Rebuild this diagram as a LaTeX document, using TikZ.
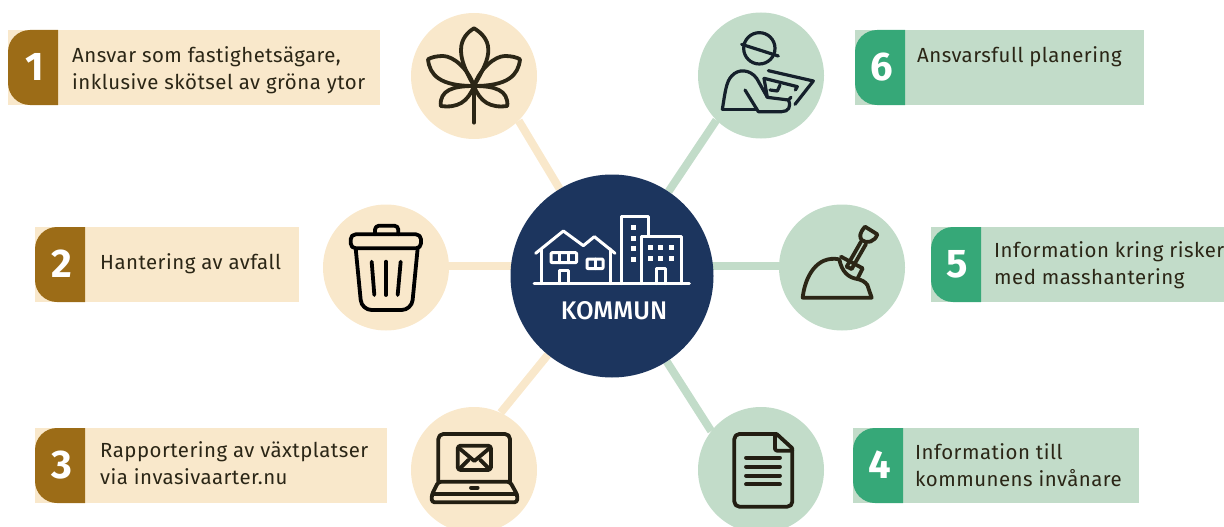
\documentclass[tikz,border=0pt]{standalone}
\usepackage{fontspec}
\setmainfont{Fira Sans}[LetterSpace=2.4]
\newfontfamily\numfont{Fira Sans}
\newfontfamily\hubfont{Fira Sans Medium}
\usetikzlibrary{backgrounds}
\definecolor{beige}{HTML}{F9E8CB}
\definecolor{brownt}{HTML}{9C6C17}
\definecolor{sage}{HTML}{C2DCC9}
\definecolor{greent}{HTML}{36A878}
\definecolor{navy}{HTML}{1C355E}
\definecolor{ink}{HTML}{2B2616}
\definecolor{inkb}{HTML}{15202B}
\tikzset{
  hub/.style={circle,fill=navy,minimum size=203pt,inner sep=0pt},
  bead/.style={circle,minimum size=126pt,inner sep=0pt},
  labelbox/.style={rectangle,anchor=north west,inner sep=0pt,minimum height=75pt},
  labeltext/.style={anchor=west,align=left,text=ink,font=\fontsize{20.4}{27}\selectfont,inner sep=0pt},
  numtext/.style={text=white,font=\numfont\fontsize{40}{40}\selectfont\bfseries,inner sep=0pt},
  spoke/.style={line width=8pt},
  ico/.style={line width=3.8pt,line cap=round,line join=round},
  zoomed/.style={x=0.33333pt,y=-0.33333pt},
}
% name, x, y, width, fill, tab fill, number, text, text position
\newcommand{\labelitem}[9]{%
  \node[labelbox,fill=#5,minimum width=#4pt] (#1) at (#2,#3) {};
  \fill[#6] (#2+50,#3) -- (#2+22,#3) arc[start angle=90,end angle=180,radius=22pt]
     -- (#2,#3+53) arc[start angle=180,end angle=270,radius=22pt] -- (#2+50,#3+75) -- cycle;
  \node[numtext] (#1n) at (#2+26.5,#3+37) {#7};
  \node[labeltext] (#1t) at #9 {#8};
}
\begin{document}
\begin{tikzpicture}[x=1pt,y=-1pt]
\useasboundingbox (0,0) rectangle (1224,527);
\clip (0,0) rectangle (1224,527);
\node[hub] (hub) at (612,276) {};
\node[bead,fill=beige] (leaf) at (474,76) {};
\node[bead,fill=beige] (bin) at (386,267.5) {};
\node[bead,fill=beige] (laptop) at (474,470) {};
\node[bead,fill=sage] (plan) at (761,75.5) {};
\node[bead,fill=sage] (spade) at (842,267.5) {};
\node[bead,fill=sage] (doc) at (761,470) {};
\begin{pgfonlayer}{background}
\draw[spoke,beige] (hub) -- (leaf.-45);
\draw[spoke,beige] (bin.east) ++(0,-1.5) coordinate (binc) -- (binc -| hub);
\draw[spoke,beige] (hub) -- (laptop.65);
\draw[spoke,sage] (hub) -- (plan.-135);
\draw[spoke,sage] (spade.west) ++(0,-1.5) coordinate (spc) -- (spc -| hub);
\draw[spoke,sage] (hub) -- (doc.142);
\end{pgfonlayer}

\labelitem{b1}{8}{30}{372}{beige}{brownt}{1}{Ansvar som fastighetsägare,\\inklusive skötsel av gröna ytor}{(72,70)}
\labelitem{b2}{35}{227}{264}{beige}{brownt}{2}{Hantering av avfall}{(100,263.5)}
\labelitem{b3}{35}{428}{352}{beige}{brownt}{3}{Rapportering av växtplatser\\via invasivaarter.nu}{(100,463.5)}
\labelitem{b6}{855}{30}{289}{sage}{greent}{6}{Ansvarsfull planering}{(917,56.5)}
\labelitem{b5}{931}{227}{293}{sage}{greent}{5}{Information kring risker\\med masshantering}{(994,265)}
\labelitem{b4}{853}{428}{286}{sage}{greent}{4}{Information till\\kommunens invånare}{(915,465)}

% leaf icon
\begin{scope}[shift={(400,0)},zoomed,ico,draw=ink]
\draw (222,258) -- (222,368);
\draw (222,258) .. controls (195,210) and (183,180) .. (183,150) .. controls (183,115) and (205,95) .. (222,85) .. controls (239,95) and (265,115) .. (265,150) .. controls (265,180) and (249,210) .. (222,258);
\draw (222,258) .. controls (240,205) and (285,168) .. (315,168) .. controls (335,168) and (350,172) .. (360,178) .. controls (355,225) and (325,258) .. (222,258);
\draw (222,258) .. controls (204,205) and (159,168) .. (129,168) .. controls (109,168) and (94,172) .. (84,178) .. controls (89,225) and (119,258) .. (222,258);
\draw (222,258) .. controls (285,258) and (325,270) .. (322,318) .. controls (270,325) and (240,305) .. (222,258);
\draw (222,258) .. controls (159,258) and (119,270) .. (122,318) .. controls (174,325) and (204,305) .. (222,258);
\end{scope}

% planner icon
\begin{scope}[shift={(690,10)},zoomed,ico,draw=inkb,line width=3.2pt]
\draw (208,115) circle[radius=47];
\draw (155,103) -- (265,138);
\draw (97,298) .. controls (105,250) and (108,215) .. (125,198) .. controls (145,175) and (180,178) .. (200,205) -- (232,262) -- (295,270) .. controls (305,290) and (295,305) .. (275,305) -- (205,305) -- (165,240);
\draw (97,298) -- (200,298);
\draw (235,182) -- (370,213) -- (315,283);
\draw (222,205) -- (322,230) -- (316,240);
\draw (240,240) -- (262,243) -- (270,225);
\draw (222,205) -- (232,262);
\draw (303,262) -- (295,270);
\end{scope}

% bin icon
\begin{scope}[shift={(320,200)},zoomed,ico,draw=black]
\draw[rounded corners=5pt] (92,145) -- (92,103) -- (303,103) -- (303,145) -- cycle;
\draw[rounded corners=4pt] (165,103) -- (165,77) -- (235,77) -- (235,103);
\draw[rounded corners=10pt] (107,145) -- (125,330) -- (275,330) -- (293,145);
\draw (155,185) -- (163,285);
\draw (198,185) -- (198,285);
\draw (242,185) -- (233,285);
\end{scope}

% spade icon
\begin{scope}[shift={(780,205)},zoomed,ico,draw=ink]
\draw (178,163) .. controls (110,150) and (75,215) .. (68,278) -- (275,278) -- (262,240) .. controls (255,230) and (245,225) .. (232,222) .. controls (205,218) and (185,200) .. (178,163);
\draw (183,155) -- (248,190) -- (232,222);
\draw (200,185) -- (243,110);
\draw (215,192) -- (258,117);
\draw (200,185) -- (215,192);
\draw (255,65) -- (292,88) .. controls (285,110) and (260,118) .. (245,105) .. controls (238,95) and (238,85) .. (255,65) -- cycle;
\end{scope}

% laptop icon
\begin{scope}[shift={(410,405)},zoomed,ico,draw=ink!80!black]
\draw[rounded corners=5pt] (85,230) -- (85,87) -- (300,87) -- (300,230);
\draw[rounded corners=3pt] (85,230) -- (300,230) -- (322,270) -- (322,292) -- (65,292) -- (65,270) -- cycle;
\draw (68,268) -- (320,268);
\draw (183,248) -- (203,248);
\draw[rounded corners=3pt] (143,122) rectangle (243,195);
\draw (148,130) -- (193,168) -- (238,130);
\draw (150,190) -- (176,164);
\draw (236,190) -- (210,164);
\end{scope}

% document icon
\begin{scope}[shift={(695,405)},zoomed,ico,draw=ink!80!black]
\draw[rounded corners=5pt] (245,87) -- (118,87) -- (118,305) -- (292,305) -- (292,130);
\draw (245,87) -- (292,130);
\draw[rounded corners=2pt] (240,87) -- (240,137) -- (292,137);
\draw (153,158) -- (255,158);
\draw (153,185) -- (255,185);
\draw (153,212) -- (255,212);
\draw (153,238) -- (255,238);
\end{scope}

% town icon
\begin{scope}[shift={(510,175)},zoomed,ico,draw=white,line width=3pt]
\draw (72,326) -- (538,326);
\draw (77,235) -- (160,168) -- (220,212) -- (253,185) -- (315,235);
\draw (95,222) -- (95,326);
\draw (300,222) -- (300,326);
\draw[rounded corners=1pt] (123,233) rectangle (200,263);
\draw (149,233) -- (149,263);
\draw (175,233) -- (175,263);
\draw[rounded corners=1pt] (231,252) rectangle (279,281);
\draw (255,252) -- (255,281);
\draw (148,326) -- (148,286) -- (174,286) -- (174,326);
\draw (335,326) -- (335,124) -- (415,124) -- (415,182);
\draw (395,326) -- (395,184) -- (513,184) -- (513,326);
\draw (438,326) -- (438,280) -- (467,280) -- (467,326);
\foreach \q in {157,190,220,253} \fill[white] (363,\q-8) rectangle (379,\q+8);
\foreach \p in {421,452,484} \foreach \q in {217,250} \fill[white] (\p-8,\q-8) rectangle (\p+8,\q+8);
\end{scope}
\node[text=white,inner sep=0pt,font=\hubfont\fontsize{25.5}{25.5}\selectfont] (hubt) at (614,311) {KOMMUN};
\end{tikzpicture}
\end{document}
